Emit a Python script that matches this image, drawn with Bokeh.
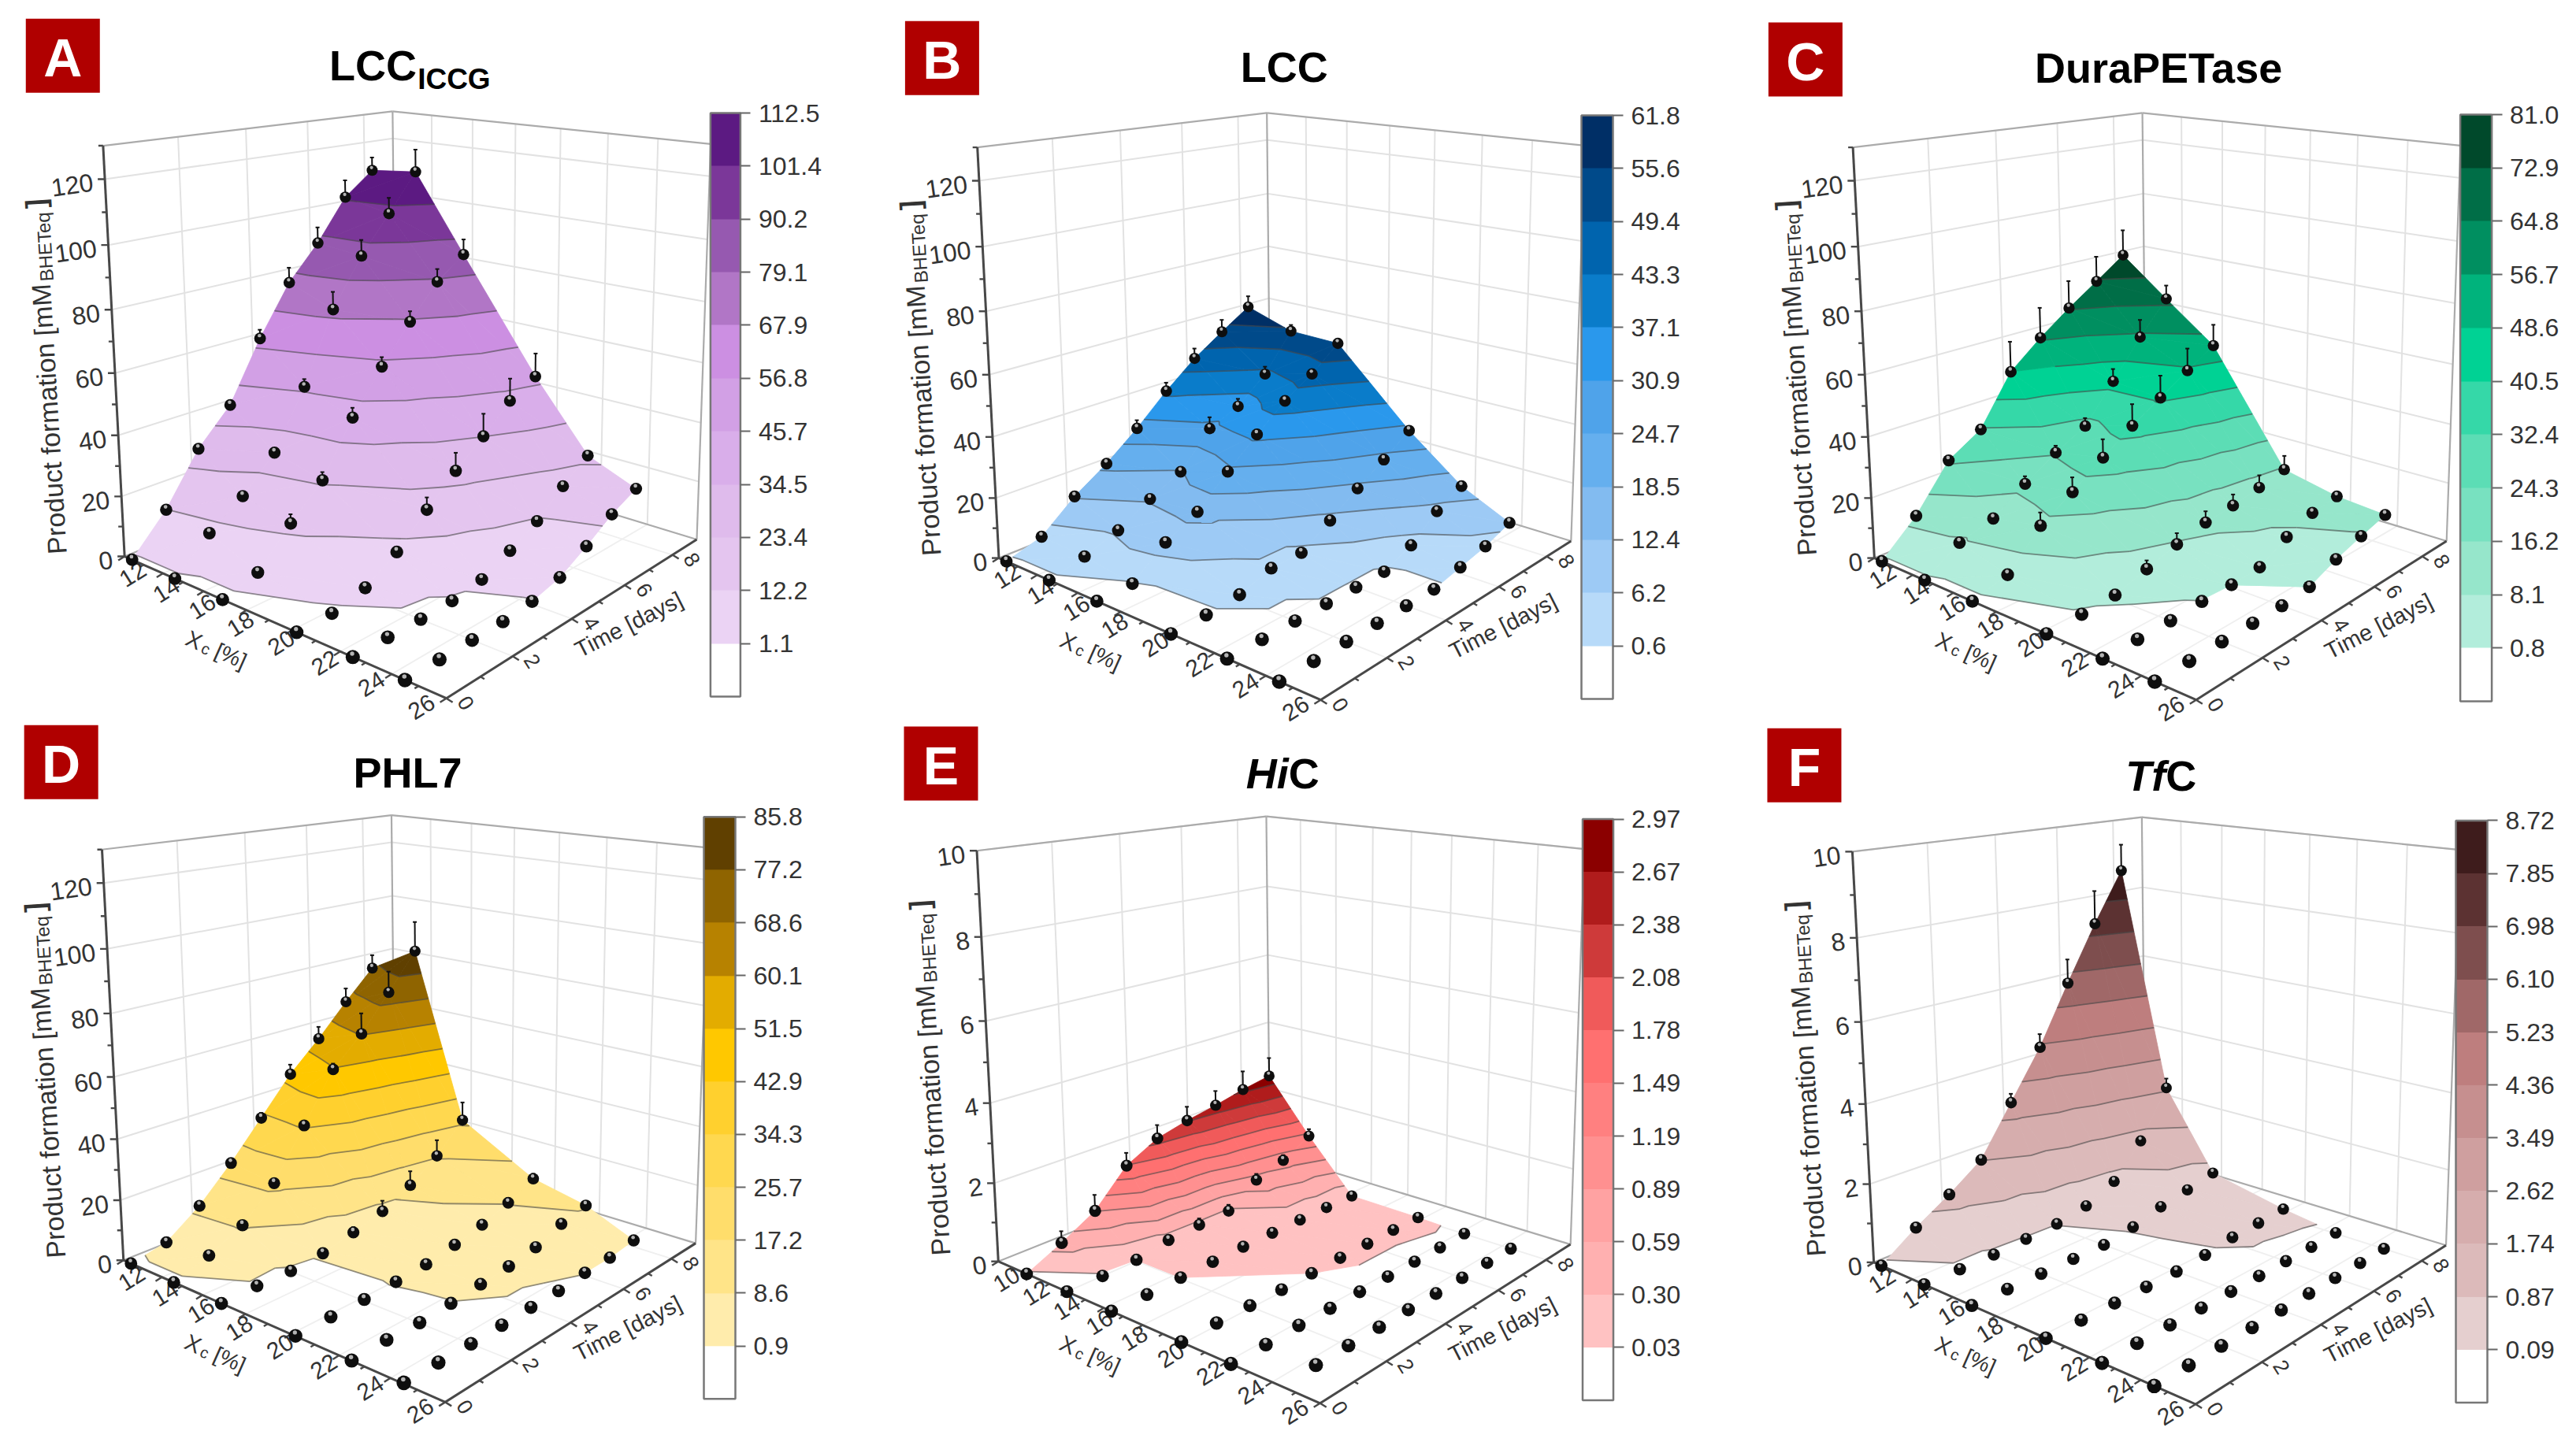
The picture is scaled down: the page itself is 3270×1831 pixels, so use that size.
import numpy as np
from bokeh.plotting import figure
from bokeh.embed import file_html
from bokeh.resources import INLINE
from bokeh.core.properties import value
from bokeh.models import Range1d, ColorBar, LinearColorMapper, FixedTicker

# ---------------- data ----------------
TIME = [0, 1, 2, 3, 4, 5, 6, 7, 8]
SOLIDS = [12.4, 14.6, 16.9, 20.2, 22.5, 24.5]
SOLIDS_E = [11.7, 14.0, 16.4, 19.9, 22.2, 24.4]

# rows: day 0..8, columns: solids loading
Z_A = [[0,0,0,0,0,0],[12.1,10.0,3.5,.3,.1,0],[28.6,17.8,14.6,3.0,.1,0],[39.9,28.3,24.4,9.4,.4,0],
       [59.7,47.1,41.3,18.5,2.0,.9],[76.4,70.5,55.0,27.0,6.4,3.3],[88.0,86.4,67.2,34.6,11.5,8.5],
       [102.3,99.0,78.3,43.0,18.9,14.4],[110.3,111.9,85.4,48.0,25.3,18.6]]
Z_B = [[0,0,0,0,0,0],[3.5,2.8,.4,.3,0,0],[12.8,6.8,8.9,1.3,0,0],[20.0,13.0,14.4,4.7,0,0],
       [28.6,18.2,23.7,4.8,0,0],[38.4,29.5,32.4,10.9,0,0],[47.0,33.8,40.4,17.4,3.9,2.1],
       [53.8,42.1,46.5,23.2,10.9,4.2],[60.3,54.8,54.3,29.5,15.2,7.5]]
Z_C = [[0,0,0,0,0,0],[10.6,7.4,3.3,.5,0,0],[25.2,10.8,14.4,1.2,.1,0],[32.0,18.2,21.0,4.4,.7,0],
       [48.6,24.9,28.4,7.6,.8,0],[57.5,30.4,35.4,10.2,1.5,.8],[65.3,42.8,41.5,11.5,6.7,4.7],
       [72.4,55.6,47.7,13.4,10.3,7.6],[79.7,66.7,53.5,15.6,11.6,10.2]]
Z_D = [[0,0,0,.1,.1,.3],[2.3,3.9,.4,.4,.5,.2],[10.3,9.3,.2,.5,.2,0],[21.0,19.2,1.2,1.0,.8,.1],
       [33.1,35.1,3.6,1.7,1.7,.2],[45.3,51.1,6.4,3.4,2.5,.2],[55.0,60.5,11.3,5.6,4.0,1.0],
       [65.7,72.5,17.8,8.8,7.3,1.1],[75.7,84.9,27.1,13.1,9.2,2.2]]
Z_E = [[0,0,0,0,0,np.nan],[.42,0,0,.02,0,.01],[.90,.03,.03,.02,.02,.01],[1.77,.18,.05,.01,.01,.01],
       [2.20,.23,.07,.03,.01,.01],[2.40,.26,.08,.05,0,0],[2.55,.79,.08,.05,0,0],
       [2.73,1.03,.08,.06,0,0],[2.87,1.43,.07,.05,.01,0]]
Z_F = [[0,0,0,0,0,0],[.62,0,0,0,.01,0],[1.15,0,0,0,.01,0],[1.76,.05,0,0,0,0],
       [3.02,.10,0,0,0,0],[4.28,.25,.12,.05,0,0],[5.83,.61,.33,.15,0,0],
       [7.30,1.46,.47,.18,0,0],[8.64,2.71,.63,.22,.02,0]]

# upward error bars, rows: solids 12,14,16,20 ; columns: day 0..8
E_A = [[0,0,0,0,3,5.2,5.5,6,4.6],[0,0,0,0,2.6,6,5.5,5.5,7.8],[0,0,3,2.7,3.3,3.2,3.6,4.4,5.3],[0,0,0,0,4,6,7.6,7.6,8]]
E_B = [[0,0,0,0,2.9,3,3.6,4.4,4],[0,0,0,0,0,4,2.7,2.7,2.3],[0,0,0,0,0,0,0,0,0],[0,0,0,0,0,0,0,0,0]]
E_C = [[0,0,0,0,10.5,10.6,9.7,9,9.2],[0,0,0,2.6,2.4,2.8,4.4,6.2,4.9],[0,0,4.3,4.9,6.2,7.4,7.7,7.8,7.5],[0,0,0,2.8,3.7,3.8,3.8,4.3,4.9]]
E_D = [[0,0,0,0,1.8,3.4,4.3,4.9,4.8],[0,0,0,0,0,2,7.2,7.4,10.5],[0,0,0,0,1.8,3.7,5,5.7,6.5],[0,0,0,0,0,0,0,1.7,1.8]]
E_E = [[0,.3,.42,.34,.36,.38,.4,.52,.52],[0,0,0,0,.17,.17,.17,.15,.2],[0,0,0,0,0,0,0,0,0],[0,0,0,0,0,0,0,0,0]]
E_F = [[0,0,0,0,.24,.36,.65,.9,.72],[0,0,0,0,0,0,0,0,.27],[0,0,0,0,0,0,0,0,0],[0,0,0,0,0,0,0,0,0]]

LABELS_A = ["1.1","12.2","23.4","34.5","45.7","56.8","67.9","79.1","90.2","101.4","112.5"]
LABELS_B = ["0.6","6.2","12.4","18.5","24.7","30.9","37.1","43.3","49.4","55.6","61.8"]
LABELS_C = ["0.8","8.1","16.2","24.3","32.4","40.5","48.6","56.7","64.8","72.9","81.0"]
LABELS_D = ["0.9","8.6","17.2","25.7","34.3","42.9","51.5","60.1","68.6","77.2","85.8"]
LABELS_E = ["0.03","0.30","0.59","0.89","1.19","1.49","1.78","2.08","2.38","2.67","2.97"]
LABELS_F = ["0.09","0.87","1.74","2.62","3.49","4.36","5.23","6.10","6.98","7.85","8.72"]

COL_A = ["#EBD3F4","#E4C5EF","#DFBBEC","#D9AEEA","#D2A0E5","#CC8FE2","#B176C6","#9659B0","#7B3799","#5C1A82"]
COL_B = ["#B7DAF9","#9DCAF5","#82BBF0","#65AFEE","#4FA3EA","#2A98EC","#0A7CCA","#0064AE","#004A8A","#002F66"]
COL_C = ["#B2EDDB","#96E6CB","#78E1C0","#5CDDB5","#35D8A8","#00D294","#00B37C","#008F60","#006E47","#00492B"]
COL_D = ["#FFECAC","#FFE488","#FFDD6B","#FFD84F","#FFD02E","#FFC800","#E3AC00","#B78200","#8F6400","#604000"]
COL_E = ["#FFC2C2","#FFB0B0","#FFA2A2","#FF9090","#FF8080","#FF7070","#F05A5A","#CE3A3A","#B01C1C","#8B0000"]
COL_F = ["#E5CFCF","#DCBABA","#D6ADAD","#CF9F9F","#C68F8F","#BE7E7E","#A06868","#7E4E4E","#5C3232","#3E1C1C"]

# ---------------- layout ----------------
SX, SY = 1.4255, 1.7136          # scale of the measuring grid
TMAX = 9.1
CUBE = [((0,0,0),(225,1212)),((1,0,0),(810,1515)),((0,1,0),(714,970)),((1,1,0),(1260,1178)),
        ((0,0,1),(183,317)),((0,1,1),(714,243)),((1,1,1),(1283,310))]
rows = []
for (u,v,w),(X,Y) in CUBE:
    rows.append([u,v,w,1,0,0,0,0,-X*u,-X*v,-X*w,-X])
    rows.append([0,0,0,0,u,v,w,1,-Y*u,-Y*v,-Y*w,-Y])
M = np.linalg.svd(np.array(rows,float))[2][-1].reshape(3,4)

PANELS = [
 dict(key="A",org=(0,0),off=(0,0),xr=(12,26),zmax=130,xs=SOLIDS,z=Z_A,err=E_A,lab=LABELS_A,col=COL_A,badge=(46,40),bar=(901.4,940,143,884),ylab=(0,0)),
 dict(key="B",org=(1100,0),off=(14,3.5),xr=(12,26),zmax=130,xs=SOLIDS,z=Z_B,err=E_B,lab=LABELS_B,col=COL_B,badge=(69,45),bar=(2007,2047,146,887),ylab=(0,0)),
 dict(key="C",org=(2170,0),off=(73,3.5),xr=(12,26),zmax=130,xs=SOLIDS,z=Z_C,err=E_C,lab=LABELS_C,col=COL_C,badge=(106,48),bar=(3122.6,3162.6,144.7,890),ylab=(0,0)),
 dict(key="D",org=(0,915),off=(-2,-36.5),xr=(12,26),zmax=130,xs=SOLIDS,z=Z_D,err=E_D,lab=LABELS_D,col=COL_D,badge=(43,9),bar=(893,933,1036.4,1775.8),ylab=(0,0)),
 dict(key="E",org=(1100,915),off=(13,-34),xr=(10,26),zmax=10,xs=SOLIDS_E,z=Z_E,err=E_E,lab=LABELS_E,col=COL_E,badge=(67,12),bar=(2008.5,2048.4,1038.7,1777.5),ylab=(18,-8)),
 dict(key="F",org=(2170,915),off=(72,-32),xr=(12,26),zmax=10,xs=SOLIDS,z=Z_F,err=E_F,lab=LABELS_F,col=COL_F,badge=(104,16),bar=(3117,3157.7,1040.5,1780.4),ylab=(18,-8)),
]

W, H = 3262, 1823
p = figure(width=W, height=H, x_range=Range1d(0, W), y_range=Range1d(H, 0),
           x_axis_type=None, y_axis_type=None, output_backend="svg", toolbar_location=None,
           min_border=0, outline_line_color=None)
p.grid.visible = False
FONT = value("Liberation Sans")

def proj(P, x, t, z):
    x, t, z = np.broadcast_arrays(np.asarray(x,float), np.asarray(t,float), np.asarray(z,float))
    u = (x-P["xr"][0])/(P["xr"][1]-P["xr"][0]); v = t/TMAX; w = z/P["zmax"]
    h = np.stack([u,v,w,np.ones_like(u)])
    q = M@h.reshape(4,-1)
    X = (q[0]/q[2]+P["off"][0])/SX+P["org"][0]
    Y = (q[1]/q[2]+P["off"][1])/SY+P["org"][1]
    return X.reshape(u.shape), Y.reshape(u.shape), q[2].reshape(u.shape)

def at(P, X, Y):
    return P["org"][0]+X/SX, P["org"][1]+Y/SY

def clip(poly, level, above):
    out = []
    for i in range(len(poly)):
        a, b = poly[i], poly[(i+1) % len(poly)]
        ia = a[2] >= level if above else a[2] <= level
        ib = b[2] >= level if above else b[2] <= level
        if ia: out.append(a)
        if ia != ib:
            out.append(a+(level-a[2])/(b[2]-a[2])*(b-a))
    return out

def text(xs, ys, ts, size, align="left", angle=0, color="#333333", font=FONT, style="normal"):
    p.text(x=list(xs), y=list(ys), text=list(ts), angle=angle, angle_units="deg", text_font=font,
           text_font_size=size, text_align=align, text_baseline="middle", text_color=color, text_font_style=style)

for P in PANELS:
    key = P["key"]; zm = P["zmax"]; xa, xb = P["xr"]; ox, oy = P["org"]; dx, dy = P["off"]
    zmaj = list(range(0, 121, 20)) if zm == 130 else list(range(0, 11, 2))
    zmin = list(range(10, 131, 20)) if zm == 130 else list(range(1, 10, 2))
    xmaj = list(range(xa, xb+1, 2)); tmaj = [0,2,4,6,8]
    xmin = [a+1 for a in xmaj[:-1]]; tmin = [1,3,5,7]
    # floor and walls
    def add(g, a, b):
        xx, yy, _ = proj(P, [a[0],b[0]], [a[1],b[1]], [a[2],b[2]])
        g[0].append(list(xx)); g[1].append(list(yy))
    floor = ([], [])
    for x in xmaj[1:]: add(floor, (x,0,0), (x,TMAX,0))
    for t in tmaj[1:]: add(floor, (xa,t,0), (xb,t,0))
    p.multi_line(floor[0], floor[1], line_color="#EFEFEF", line_width=1.8)
    wall = ([], [])
    for z in zmaj[1:]:
        add(wall, (xa,0,z), (xa,TMAX,z)); add(wall, (xa,TMAX,z), (xb,TMAX,z))
    for t in tmaj[1:]: add(wall, (xa,t,0), (xa,t,zm))
    for x in xmaj[1:-1]: add(wall, (x,TMAX,0), (x,TMAX,zm))
    p.multi_line(wall[0], wall[1], line_color="#E2E2E2", line_width=2)
    box = ([], [])
    add(box, (xa,0,zm), (xa,TMAX,zm)); add(box, (xa,TMAX,zm), (xb,TMAX,zm))
    add(box, (xa,TMAX,0), (xa,TMAX,zm)); add(box, (xb,TMAX,0), (xb,TMAX,zm))
    add(box, (xa,0,0), (xa,TMAX,0)); add(box, (xa,TMAX,0), (xb,TMAX,0))
    p.multi_line(box[0], box[1], line_color="#ABABAB", line_width=2.2)
    ax = ([], [])
    add(ax, (xa,0,0), (xa,0,zm)); add(ax, (xa,0,0), (xb,0,0)); add(ax, (xb,0,0), (xb,TMAX,0))
    p.multi_line(ax[0], ax[1], line_color="#484848", line_width=3)

    # ticks
    def ticks(xx, yy, zz, ex, ey):
        X, Y, _ = proj(P, xx, yy, zz)
        p.segment(X, Y, X+ex, Y+ey, line_color="#484848", line_width=2.4)
        return X, Y
    X, Y = ticks([xa]*len(zmaj), [0]*len(zmaj), zmaj, -9, 0)
    ticks([xa]*len(zmin), [0]*len(zmin), zmin, -6, 0)
    text(X-15, Y+4, [str(a) for a in zmaj], "32px", "right", angle=8)
    X, Y = ticks(xmaj, [0]*len(xmaj), [0]*len(xmaj), -8, 5)
    ticks(xmin, [0]*len(xmin), [0]*len(xmin), -5, 3)
    uu = (np.array(xmaj)-xa)/(xb-xa)
    text(X+10.5-42*uu, Y+23-12*uu, [str(a) for a in xmaj], "30px", "center", angle=32)
    X, Y = ticks([xb]*5, tmaj, [0]*5, 8, 5)
    ticks([xb]*4, tmin, [0]*4, 5, 3)
    text(X+25, Y+6, [str(a) for a in tmaj], "27px", "center", angle=-58)

    # axis titles
    tx, ty = at(P, 1137+dx, 1358+dy)
    text([tx], [ty], ["Time [days]"], "29px", "center", angle=27)
    a0, b0 = at(P, 338+dx, 1385+dy)
    text([a0], [b0], ["X"], "29px", "left", angle=-24)
    text([a0+19], [b0+13], ["c"], "20px", "left", angle=-24)
    text([a0+37], [b0+16], ["[%]"], "28px", "left", angle=-24)
    # z title, three pieces along one line
    lx, ly = at(P, 103+dx+P["ylab"][0], 1205+dy+P["ylab"][1])
    th = np.deg2rad(93.5); cx, cy = np.cos(th), -np.sin(th)
    text([lx], [ly], ["Product formation [mM"], "34px", "left", 93.5)
    l1 = 347
    text([lx+cx*l1+8], [ly+cy*l1], ["BHETeq"], "24px", "left", 93.5)
    l2 = l1+93
    text([lx+cx*l2], [ly+cy*l2], ["]"], "36px", "left", 93.5, style="bold")

    # badge
    bx0, by0 = at(P, *P["badge"])
    p.quad(left=[bx0], right=[bx0+94], top=[by0], bottom=[by0+94], fill_color="#B00000", line_color=None)
    text([bx0+47], [by0+49], [key], "68px", "center", color="#FFFFFF", style="bold")

    # surface
    xs = np.array(P["xs"], float); ts = np.array(TIME, float)
    Z = np.nan_to_num(np.array(P["z"], float))
    lev = np.array([float(a) for a in P["lab"]])
    pxs, pys, cols = [], [], []
    lxs, lys = [], []
    for i in range(len(xs)-1):
        for j in range(len(ts)-2, -1, -1):
            c = [np.array([xs[i+a], ts[j+b], Z[j+b][i+a]]) for a, b in ((0,0),(1,0),(1,1),(0,1))]
            for tri in ([c[0],c[3],c[2]], [c[0],c[2],c[1]]):
                for k in range(len(lev)-1):
                    poly = clip(tri, lev[k], True)
                    if poly: poly = clip(poly, lev[k+1], False)
                    if len(poly) >= 3:
                        a = np.array(poly)
                        X, Y, _ = proj(P, a[:,0], a[:,1], a[:,2])
                        pxs.append(list(X)); pys.append(list(Y)); cols.append(P["col"][k])
                for L in lev[:-1]:
                    pts = []
                    for m in range(3):
                        a, b = tri[m], tri[(m+1) % 3]
                        if (a[2]-L)*(b[2]-L) < 0:
                            pts.append(a+(L-a[2])/(b[2]-a[2])*(b-a))
                    if len(pts) == 2:
                        a = np.array(pts)
                        X, Y, _ = proj(P, a[:,0], a[:,1], a[:,2])
                        lxs.append(list(X)); lys.append(list(Y))
    p.patches(pxs, pys, fill_color=cols, line_color=cols, line_width=0.8)
    p.multi_line(lxs, lys, line_color="#4A4A4A", line_alpha=0.6, line_width=1.8)

    # error bars
    ex0, ey0, ex1, ey1 = [], [], [], []
    for i, row in enumerate(P["err"]):
        for j, e in enumerate(row):
            if e > 0:
                z = P["z"][j][i]
                a, b, _ = proj(P, xs[i], ts[j], z); c, d, _ = proj(P, xs[i], ts[j], z+e)
                ex0 += [float(a), float(c)-2.5]; ey0 += [float(b), float(d)]
                ex1 += [float(c), float(c)+2.5]; ey1 += [float(d), float(d)]
    if ex0:
        p.segment(ex0, ey0, ex1, ey1, line_color="#111111", line_width=2)

    # points
    XX, TT = np.meshgrid(xs, ts)
    ZZ = np.array(P["z"], float)
    ok = ~np.isnan(ZZ)
    X, Y, Wd = proj(P, XX[ok], TT[ok], ZZ[ok])
    _, _, w0 = proj(P, xb, 0, 0)
    size = 19*(float(w0)/Wd)**0.9
    order = np.argsort(-Wd)
    p.scatter(X[order], Y[order], size=size[order], fill_color="#0E0E0E", line_color=None)
    p.scatter(X[order]-0.8, Y[order]-size[order]*0.24, size=size[order]*0.3, fill_color="#B5B5B5", line_color=None)

    # colour bar
    bl, br, bt, bb = P["bar"]
    pal = ["#FFFFFF"]+P["col"]
    mapper = LinearColorMapper(palette=pal, low=0, high=11)
    cb = ColorBar(color_mapper=mapper, ticker=FixedTicker(ticks=list(range(1, 12))),
                  major_label_overrides={i+1: s for i, s in enumerate(P["lab"])},
                  location=(bl, H-bb), width=int(br-bl), height=int(bb-bt), padding=0,
                  margin=0, major_tick_out=13, major_tick_in=0, major_tick_line_color="#666666",
                  major_tick_line_width=2, minor_tick_line_color=None, bar_line_color="#777777",
                  bar_line_width=2.5, border_line_color=None, background_fill_color=None,
                  label_standoff=10, major_label_text_font="Liberation Sans",
                  major_label_text_font_size="32px", major_label_text_color="#333333")
    p.add_layout(cb, "center")

# titles
def title(P, X, Y, s, align="center", size=54, style="bold"):
    a, b = at(P, X, Y)
    text([a], [b-0.36*size], [s], f"{size}px", align, color="#000000", style=style)
title(PANELS[0], 595, 175, "LCC", "left")
title(PANELS[0], 755, 195, "ICCG", "left", 37)
title(PANELS[1], 755, 178, "LCC")
title(PANELS[2], 812, 180, "DuraPETase")
title(PANELS[3], 737, 145, "PHL7")
title(PANELS[4], 763, 148, "Hi", "right", style="bold italic")
title(PANELS[4], 763, 148, "C", "left")
title(PANELS[5], 825, 152, "Tf", "right", style="bold italic")
title(PANELS[5], 825, 152, "C", "left")

open("out.html", "w").write(file_html(p, INLINE))
